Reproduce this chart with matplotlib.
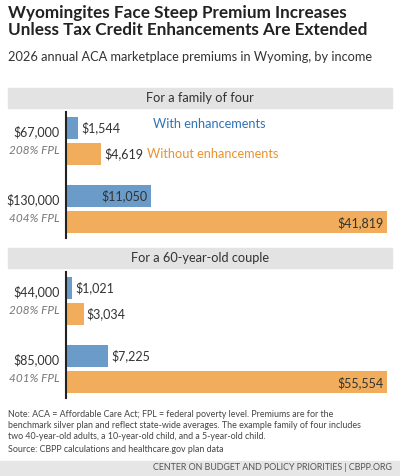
import matplotlib.pyplot as plt
from matplotlib.patches import Rectangle

plt.rcParams['font.family'] = ['Lato', 'DejaVu Sans']

incomes = [["$67,000", "$130,000"], ["$44,000", "$85,000"]]
fpl = [["208% FPL", "404% FPL"], ["208% FPL", "401% FPL"]]
with_enh = [[1544, 11050], [1021, 7225]]
without_enh = [[4619, 41819], [3034, 55554]]
panel_titles = ["For a family of four", "For a 60-year-old couple"]

BLUE = "#6a9bc9"
ORANGE = "#f2ad5c"
BLUE_T = "#2f74b5"
ORANGE_T = "#e8932e"
DARK = "#333333"

W, H = 400, 476
fig = plt.figure(figsize=(W / 100, H / 100), dpi=100)

def fx(px): return px / W
def fy(py): return 1 - py / H

fig.text(fx(8), fy(5), "Wyomingites Face Steep Premium Increases\nUnless Tax Credit Enhancements Are Extended",
         fontsize=12.3, fontweight="bold", va="top", ha="left", color="#222222", linespacing=1.05)
fig.text(fx(8), fy(57), "2026 annual ACA marketplace premiums in Wyoming, by income",
         fontsize=9.2, va="center", ha="left", color="#333333")

bands = [88, 248]
axes_box = [(112, 238), (272, 398)]
for p in range(2):
    fig.patches.append(Rectangle((fx(8), fy(bands[p] + 20)), fx(384), 20 / H,
                                 transform=fig.transFigure, color="#e3e3e3", zorder=0))
    fig.text(0.5, fy(bands[p] + 10), panel_titles[p], fontsize=9.2, ha="center", va="center", color=DARK)
    top, bot = axes_box[p]
    ax = fig.add_axes([fx(66), fy(bot), fx(324), (bot - top) / H])
    ys_b = [0, 2.6]
    ys_o = [1, 3.6]
    mx = max(without_enh[p])
    ax.barh(ys_b, with_enh[p], height=0.85, color=BLUE)
    ax.barh(ys_o, without_enh[p], height=0.85, color=ORANGE)
    ax.set_ylim(4.2, -0.6)
    ax.set_xlim(0, mx * 1.01)
    for i in range(2):
        for y, v in [(ys_b[i], with_enh[p][i]), (ys_o[i], without_enh[p][i])]:
            lab = "${:,}".format(v)
            if v > mx * 0.15:
                ax.text(v - mx * 0.01, y, lab, ha="right", va="center", fontsize=9, color=DARK)
            else:
                ax.text(v + mx * 0.01, y, lab, ha="left", va="center", fontsize=9, color=DARK)
        ax.text(-0.02, (ys_b[i] + ys_o[i]) / 2 - 0.35, incomes[p][i], transform=ax.get_yaxis_transform(),
                ha="right", va="center", fontsize=9, color=DARK)
        ax.text(-0.02, (ys_b[i] + ys_o[i]) / 2 + 0.35, fpl[p][i], transform=ax.get_yaxis_transform(),
                ha="right", va="center", fontsize=8.5, color="#777777", style="italic")
    if p == 0:
        ax.text(0.27, -0.15, "With enhancements", transform=ax.get_yaxis_transform(),
                ha="left", va="center", fontsize=9.2, color=BLUE_T)
        ax.text(0.25, 1.0, "Without enhancements", transform=ax.get_yaxis_transform(),
                ha="left", va="center", fontsize=9.2, color=ORANGE_T)
    for s in ["top", "right", "bottom"]:
        ax.spines[s].set_visible(False)
    ax.spines["left"].set_color("#222222")
    ax.spines["left"].set_linewidth(1.5)
    ax.set_xticks([])
    ax.set_yticks([])

fig.text(fx(8), fy(410), "Note: ACA = Affordable Care Act; FPL = federal poverty level. Premiums are for the\n"
         "benchmark silver plan and reflect state-wide averages. The example family of four includes\n"
         "two 40-year-old adults, a 10-year-old child, and a 5-year-old child.",
         fontsize=6.4, va="top", ha="left", color="#444444", linespacing=1.3)
fig.text(fx(8), fy(449), "Source: CBPP calculations and healthcare.gov plan data",
         fontsize=6.4, va="center", ha="left", color="#444444")
fig.patches.append(Rectangle((0, 0), 1, 15 / H, transform=fig.transFigure, color="#e6e6e6", zorder=0))
fig.text(fx(392), fy(468), "CENTER ON BUDGET AND POLICY PRIORITIES | CBPP.ORG",
         fontsize=6.4, ha="right", va="center", color="#555555")

fig.savefig("out.png", dpi=100)
